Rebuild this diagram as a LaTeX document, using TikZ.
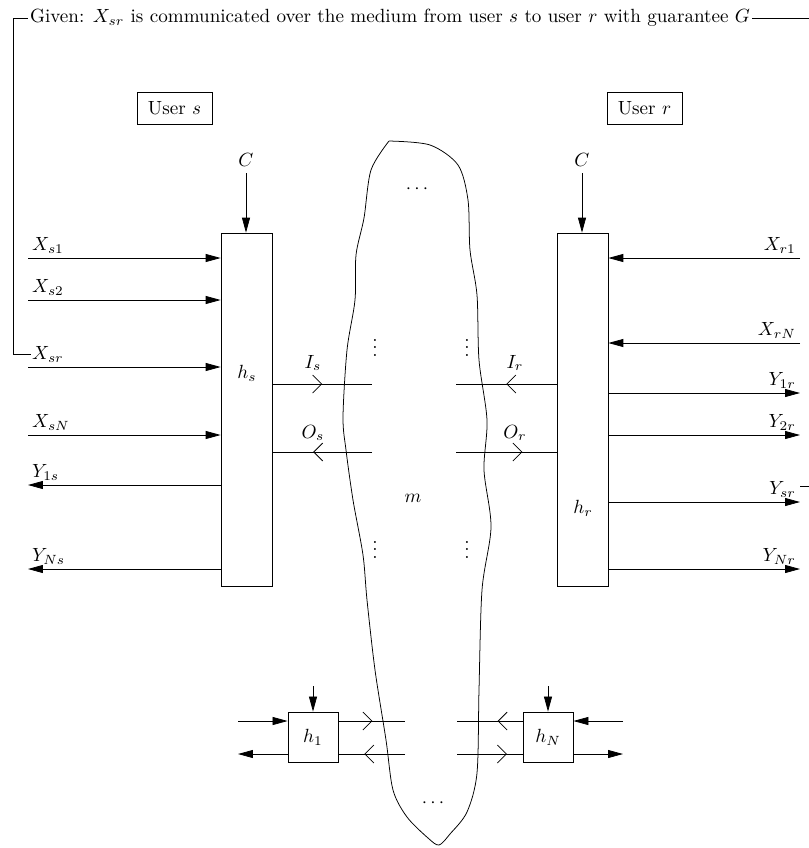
\documentclass[tikz,border=0pt]{standalone}
\usepackage{tikz}
\usetikzlibrary{positioning, arrows.meta, decorations.markings}

\begin{document}
\begin{tikzpicture}[
    x=0.5236pt, y=-0.5236pt,
    blk/.style={draw, rectangle, inner sep=0pt},
    usr/.style={draw, rectangle, minimum width=39.3pt, minimum height=16.8pt},
    lbl/.style={inner sep=2pt},
    sig/.style={-{Triangle[length=7.85pt, width=4.2pt]}},
    chev/.style={postaction={decorate}, decoration={markings,
        mark=at position #1 with {\arrow{Straight Barb[length=4.7pt, width=9.4pt]}}}},
    chev/.default=0.5,
]
\useasboundingbox (0,0) rectangle (809,848);

% users and their boxes
\node[usr] (us) at (174.5,108) {User $s$};
\node[usr] (ur) at (644.5,108) {User $r$};
\node[blk, minimum width=26.7pt, minimum height=184.8pt] (hs) at (246.5,409.5) {};
\node[blk, minimum width=26.7pt, minimum height=184.8pt] (hr) at (582.5,409.5) {};
\node (lhs) at (247,373) {$h_s$};
\node (lhr) at (583,508) {$h_r$};

\node (cs) at (246,160) {$C$};
\node (cr) at (582,160) {$C$};
\draw[sig] (cs) -- (cs |- hs.north);
\draw[sig] (cr) -- (cr |- hr.north);

% inputs and outputs of user s
\foreach \nm/\y/\tx in {xs1/258/X_{s1}, xs2/300/X_{s2}, xsr/367/X_{sr}, xsN/435/X_{sN}} {
  \coordinate (\nm) at (28,\y);
  \node[lbl, anchor=south west] (l\nm) at (\nm) {$\tx$};
  \draw[sig] (\nm) -- (\nm -| hs.west);
}
\foreach \nm/\y/\tx in {ys1/485/Y_{1s}, ysN/569/Y_{Ns}} {
  \coordinate (\nm) at (28,\y);
  \node[lbl, anchor=south west] (l\nm) at (\nm) {$\tx$};
  \draw[sig] (\nm -| hs.west) -- (\nm);
}

% inputs and outputs of user r
\foreach \nm/\y/\tx in {xr1/258/X_{r1}, xrN/343/X_{rN}} {
  \coordinate (\nm) at (800,\y);
  \node[lbl, anchor=south east] (l\nm) at (\nm) {$\tx$};
  \draw[sig] (\nm) -- (\nm -| hr.east);
}
\foreach \nm/\y/\tx in {yr1/393/Y_{1r}, yr2/435/Y_{2r}, ysr/502/Y_{sr}, yNr/569/Y_{Nr}} {
  \coordinate (\nm) at (800,\y);
  \node[lbl, anchor=south east] (l\nm) at (\nm) {$\tx$};
  \draw[sig] (\nm -| hr.east) -- (\nm);
}

% the medium
\draw plot[smooth] coordinates {(389,141) (430,145) (458,165) (468,200) (470,250)
  (477,295) (479,360) (487,420) (484,470) (491,527) (482,590) (479,690) (477,773)
  (467,812) (450,834) (439,845) (428,838) (407,817) (393,790) (386,740) (375,670)
  (367,600) (363,555) (353,500) (346,450) (343,417) (347,350) (355,300) (356,255)
  (364,218) (371,170) (389,141)};
\node (m) at (413,498) {$m$};
\node (dt) at (417,189) {$\cdots$};
\node (db) at (433,803) {$\cdots$};
\node (v1) at (375,342) {$\vdots$};
\node (v2) at (467,342) {$\vdots$};
\node (v3) at (375,544) {$\vdots$};
\node (v4) at (467,544) {$\vdots$};

% links into the medium
\coordinate (is) at (372,384);
\coordinate (os) at (372,452);
\coordinate (ir) at (456,384);
\coordinate (outr) at (456,452);
\draw[chev] (is -| hs.east) -- (is);
\draw[chev=0.59] (os) -- (os -| hs.east);
\draw[chev] (ir -| hr.west) -- (ir);
\draw[chev=0.66] (outr) -- (outr -| hr.west);
\node (lis) at (313,363) {$I_s$};
\node (los) at (313,433) {$O_s$};
\node (lir) at (515,363) {$I_r$};
\node (lor) at (515,433) {$O_r$};

% other users
\node[blk, minimum size=26.2pt] (h1) at (313,737) {$h_1$};
\node[blk, minimum size=26.2pt] (hN) at (548,737) {$h_N$};
\coordinate (c1) at (313,686);
\coordinate (cN) at (548,686);
\draw[sig] (c1) -- (h1);
\draw[sig] (cN) -- (hN);
\coordinate (in1) at (238,721);
\coordinate (out1) at (238,754);
\coordinate (a1) at (405,721);
\coordinate (b1) at (405,754);
\draw[sig] (in1) -- (in1 -| h1.west);
\draw[sig] (out1 -| h1.west) -- (out1);
\draw[chev=0.51] (a1 -| h1.east) -- (a1);
\draw[chev=0.61] (b1) -- (b1 -| h1.east);
\coordinate (inN) at (623,721);
\coordinate (outN) at (623,754);
\coordinate (aN) at (457,721);
\coordinate (bN) at (457,754);
\draw[sig] (inN) -- (inN -| hN.east);
\draw[sig] (outN -| hN.east) -- (outN);
\draw[chev=0.38] (aN -| hN.west) -- (aN);
\draw[chev=0.76] (bN) -- (bN -| hN.west);

% the guarantee
\node[inner sep=1pt] (given) at (390,18) {Given: $X_{sr}$ is communicated over the medium from user $s$ to user $r$ with guarantee $G$};
\coordinate (fbl) at (13,0);
\coordinate (fbr) at (814,486);
\draw (given.west) -| (fbl |- lxsr.west) -- ([xshift=1.5pt]lxsr.west);
\draw (given.east) -| (fbr) -- (fbr -| lysr.east);
\end{tikzpicture}
\end{document}
